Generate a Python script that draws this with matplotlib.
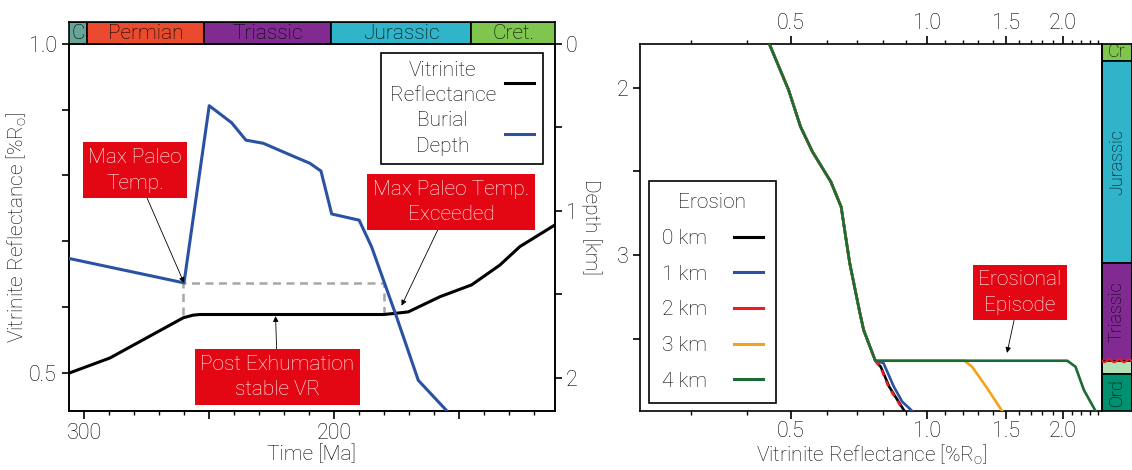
import numpy as np
import matplotlib
matplotlib.use("Agg")
import matplotlib.pyplot as plt
from matplotlib.lines import Line2D
from matplotlib.ticker import FixedLocator, FixedFormatter, NullFormatter

plt.rcParams["font.family"] = ["Roboto", "DejaVu Sans"]
plt.rcParams["font.weight"] = "light"
plt.rcParams["axes.labelweight"] = "light"
plt.rcParams["mathtext.default"] = "regular"
plt.rcParams["axes.linewidth"] = 1.2

# ---------------- Left panel: burial and maturity history ----------------
burial_time = [306.2, 260.1, 250.0, 241.0, 235.3, 228.3, 219.0, 209.6, 205.2,
               200.9, 189.9, 184.9, 174.9, 166.2, 154.8]
burial_depth = [1.285, 1.431, 0.371, 0.473, 0.577, 0.596, 0.656, 0.716, 0.762,
                1.019, 1.056, 1.216, 1.635, 2.014, 2.196]

vr_time = [306.2, 289.8, 260.4, 256.5, 253.7, 180.0, 174.9, 170.2, 157.5,
           144.8, 133.5, 125.5, 111.4]
vr_value = [0.500, 0.523, 0.584, 0.588, 0.589, 0.589, 0.591, 0.593, 0.616,
            0.634, 0.664, 0.692, 0.725]

stable_window = [260.4, 180.0]   # Ma
stable_vr = [0.588, 0.6375]      # %Ro

period_names = ["C", "Permian", "Triassic", "Jurassic", "Cret."]
period_old = [359.0, 299.0, 252.0, 201.0, 145.0]
period_young = [299.0, 252.0, 201.0, 145.0, 66.0]
period_colors = ["#67a599", "#ea4a2e", "#812b92", "#2fb4ca", "#7fc64e"]

# ---------------- Right panel: VR-depth profiles ----------------
shared_depth = [1.735, 2.012, 2.232, 2.382, 2.562, 2.712, 2.960, 3.050,
                3.349, 3.449, 3.633]
shared_vr = [0.4475, 0.494, 0.525, 0.558, 0.613, 0.646, 0.667, 0.675,
             0.711, 0.7245, 0.769]

erosion_labels = ["0 km", "1 km", "2 km", "3 km", "4 km"]
erosion_colors = ["#000000", "#2a52a3", "#ec1c24", "#f7a21b", "#1b6b35"]

depth_0km = [3.670, 3.790, 3.934]
vr_0km = [0.791, 0.826, 0.892]
depth_1km = [3.633, 3.648, 3.788, 3.878, 3.934]
vr_1km = [0.773, 0.802, 0.845, 0.882, 0.928]
depth_2km = [3.670, 3.790, 3.934]
vr_2km = [0.789, 0.823, 0.889]
depth_3km = [3.633, 3.669, 3.798, 3.934]
vr_3km = [1.212, 1.260, 1.361, 1.469]
depth_4km = [3.633, 3.669, 3.808, 3.934]
vr_4km = [2.048, 2.136, 2.229, 2.366]

unit_names = ["Cr", "Jurassic", "Triassic", "", "Ord"]
unit_top = [1.60, 1.837, 3.050, 3.633, 3.710]
unit_base = [1.837, 3.050, 3.633, 3.710, 4.100]
unit_colors = ["#7fc64e", "#2fb4ca", "#812b92", "#b3e1b6", "#009270"]
unconformity_depth = 3.633

vr_major = [0.5, 1.0, 1.5, 2.0]
vr_major_labels = ["0.5", "1.0", "1.5", "2.0"]
vr_minor = [0.3, 0.4, 0.6, 0.7, 0.8, 0.9, 1.1, 1.2, 1.3, 1.4, 1.6, 1.7, 1.8,
            1.9, 2.1, 2.2, 2.3, 2.4]

FS = 15
TICK_FS = 15.5
LINESP = 1.43
BOX_RED = "#e30613"

fig = plt.figure(figsize=(11.32, 4.70), dpi=100)

# ======================= left panel =======================
ax = fig.add_axes([0.06095, 0.12617, 0.42933, 0.78085])
axd = ax.twinx()
axp = fig.add_axes([0.06095, 0.9070, 0.42933, 0.0468])

t_lim = (306.2, 111.4)
ax.set_xlim(*t_lim)
ax.set_ylim(0.443, 1.0)
axd.set_ylim(2.196, 0.0)

vr_line, = ax.plot(vr_time, vr_value, color="black", lw=2.2, zorder=3)
bur_line, = axd.plot(burial_time, burial_depth, color="#2a52a3", lw=2.2,
                     zorder=3)

# window where maturity stays constant
ax.plot([stable_window[0], stable_window[0], stable_window[1], stable_window[1]],
        [stable_vr[0], stable_vr[1], stable_vr[1], stable_vr[0]],
        color="#a6a6a6", lw=1.8, ls=(0, (3.2, 2.2)), zorder=2)

ax.xaxis.set_major_locator(FixedLocator([300, 250, 200, 150]))
ax.xaxis.set_major_formatter(FixedFormatter(["300", "", "200", ""]))
ax.xaxis.set_minor_locator(FixedLocator(np.arange(120, 306, 10)))
ax.yaxis.set_major_locator(FixedLocator([0.5, 0.6, 0.7, 0.8, 0.9, 1.0]))
ax.yaxis.set_major_formatter(FixedFormatter(["0.5", "", "", "", "", "1.0"]))
axd.yaxis.set_major_locator(FixedLocator([0, 0.5, 1, 1.5, 2]))
axd.yaxis.set_major_formatter(FixedFormatter(["0", "", "1", "", "2"]))

ax.tick_params(axis="x", which="major", length=5.5, width=1.2,
               labelsize=TICK_FS, pad=3)
ax.tick_params(axis="x", which="minor", length=3.1, width=1.0)
ax.tick_params(axis="y", length=4.8, width=1.2, labelsize=TICK_FS, pad=4)
axd.tick_params(axis="y", length=4.8, width=1.2, labelsize=TICK_FS, pad=3)

ax.set_xlabel("Time [Ma]", fontsize=FS, labelpad=1)
ax.set_ylabel(r"Vitrinite Reflectance [%R$_o$]", fontsize=FS, labelpad=0)
axd.set_ylabel("Depth [km]", fontsize=FS, rotation=270, labelpad=17)

# geological period bar
axp.set_xlim(*t_lim)
axp.set_ylim(0, 1)
for name, old, young, col in zip(period_names, period_old, period_young,
                                 period_colors):
    axp.barh(0.5, young - old, left=old, height=1, color=col,
             edgecolor="black", lw=1.2)
    lo, hi = max(young, t_lim[1]), min(old, t_lim[0])
    axp.text((lo + hi) / 2, 0.45, name, ha="center", va="center",
             fontsize=FS)
axp.set_xticks([])
axp.set_yticks([])

red_box = dict(boxstyle="square,pad=0.27", fc=BOX_RED, ec="none")
arrow = dict(arrowstyle="-|>", color="black", lw=0.6, mutation_scale=8,
             shrinkA=0, shrinkB=0)
note_kw = dict(textcoords="axes fraction", ha="center", va="center",
               color="white", fontsize=FS, linespacing=LINESP, bbox=red_box,
               arrowprops=arrow)

axd.annotate("Max Paleo\nTemp.", xy=(burial_time[1], burial_depth[1]),
             xytext=(0.1358, 0.6551), zorder=6, **note_kw)
ax.annotate("Max Paleo Temp.\nExceeded", xy=(172.9, 0.6025),
            xytext=(0.786, 0.568), zorder=6, **note_kw)
ax.annotate("Post Exhumation\nstable VR", xy=(223.4, 0.5865),
            xytext=(0.429, 0.0918), zorder=6, **note_kw)

leg = axd.legend([vr_line, bur_line], ["Vitrinite\nReflectance", "Burial\nDepth"],
                 loc="upper right", bbox_to_anchor=(0.9747, 0.9755),
                 borderaxespad=0, markerfirst=False, handlelength=1.4,
                 handletextpad=0.45, labelspacing=0.28, borderpad=0.4,
                 fancybox=False, edgecolor="black", framealpha=1,
                 fontsize=FS)
leg.get_frame().set_linewidth(1.2)
for t in leg.get_texts():
    t.set_multialignment("center")
    t.set_linespacing(LINESP)

# ======================= right panel =======================
axr = fig.add_axes([0.5658, 0.12553, 0.40769, 0.78149])
axr.set_xscale("log")
axr.set_xlim(0.232, 2.445)
axr.set_ylim(3.934, 1.735)

lower_parts = [(depth_0km, vr_0km), (depth_1km, vr_1km), (depth_2km, vr_2km),
               (depth_3km, vr_3km), (depth_4km, vr_4km)]
for i, ((d_low, v_low), col) in enumerate(zip(lower_parts, erosion_colors)):
    d = shared_depth + d_low
    v = shared_vr + v_low
    style = (0, (2.2, 2.2)) if i == 2 else "-"
    axr.plot(v, d, color=col, lw=1.9, ls=style, zorder=3 + i)

axr.xaxis.set_major_locator(FixedLocator(vr_major))
axr.xaxis.set_major_formatter(FixedFormatter(vr_major_labels))
axr.xaxis.set_minor_locator(FixedLocator(vr_minor))
axr.xaxis.set_minor_formatter(NullFormatter())
axr.yaxis.set_major_locator(FixedLocator([2, 2.5, 3, 3.5]))
axr.yaxis.set_major_formatter(FixedFormatter(["2", "", "3", ""]))
axr.tick_params(axis="x", which="both", top=True, labeltop=True,
                bottom=True, labelbottom=True)
axr.tick_params(axis="x", which="major", length=5.5, width=1.2,
                labelsize=TICK_FS, pad=1.5)
axr.tick_params(axis="x", which="minor", length=2.8, width=1.0)
axr.tick_params(axis="y", length=4.8, width=1.2, labelsize=TICK_FS, pad=4)
axr.set_xlabel(r"Vitrinite Reflectance [%R$_o$]", fontsize=FS, labelpad=1)

axr.annotate("Erosional\nEpisode", xy=(1.506, 3.586),
             xytext=(0.8225, 0.3226), zorder=8, **note_kw)

proxies = [Line2D([], [], color=c, lw=2.2) for c in erosion_colors]
leg2 = axr.legend(proxies, erosion_labels, title="Erosion", loc="lower left",
                  bbox_to_anchor=(0.019, 0.021), borderaxespad=0,
                  markerfirst=False, handlelength=1.4, handletextpad=1.3,
                  labelspacing=0.8, borderpad=0.6, fancybox=False,
                  edgecolor="black", framealpha=1, fontsize=FS,
                  title_fontsize=FS)
leg2.get_frame().set_linewidth(1.2)

# stratigraphic column
axc = fig.add_axes([0.9735, 0.12553, 0.02606, 0.78149])
axc.set_xlim(0, 1)
axc.set_ylim(3.934, 1.735)
for name, top, base, col in zip(unit_names, unit_top, unit_base, unit_colors):
    axc.bar(0.5, base - top, bottom=top, width=1, color=col,
            edgecolor="black", lw=1.2)
    lo, hi = max(top, 1.735), min(base, 3.934)
    if name:
        axc.text(0.5, (lo + hi) / 2, name, ha="center", va="center",
                 fontsize=13, rotation=0 if name == "Cr" else 90)
wave_x = np.linspace(0, 1, 80)
axc.plot(wave_x, unconformity_depth + 0.008 * np.sin(2 * np.pi * 3 * wave_x),
         color="#ec1c24", lw=1.6, zorder=4)
axc.set_xticks([])
axc.set_yticks([])

for a in (ax, axd, axr):
    for lab in a.get_xticklabels() + a.get_yticklabels():
        lab.set_fontweight("light")

# center the two-line legend labels above each other
fig.canvas.draw()
renderer = fig.canvas.get_renderer()
widths = [t.get_window_extent(renderer).width for t in leg.get_texts()]
column = leg._legend_handle_box.get_children()[0]
for item, w in zip(column.get_children(), widths):
    item.sep = leg.handletextpad * FS + (max(widths) - w) / 2 * 72.0 / fig.dpi

fig.savefig("out.png", dpi=100)
